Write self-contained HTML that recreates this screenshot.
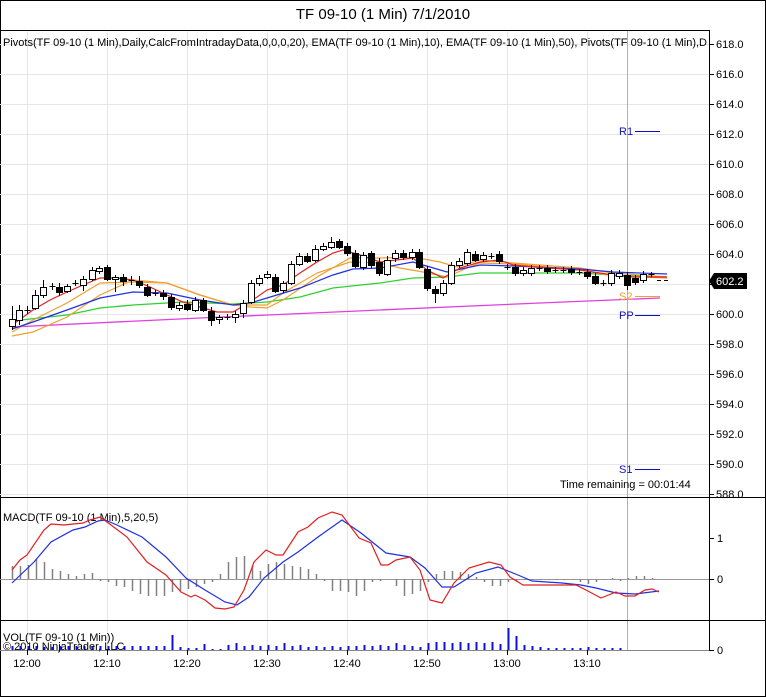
<!DOCTYPE html>
<html><head><meta charset="utf-8"><style>
html,body{margin:0;padding:0;background:#fff;}
svg{display:block;font-family:"Liberation Sans",sans-serif;}
</style></head><body>
<svg id="s" width="766" height="697" viewBox="0 0 766 697" xmlns="http://www.w3.org/2000/svg">
<rect x="0.5" y="0.5" width="765" height="696" fill="#fff" stroke="#000"/>
<text x="383" y="19" font-size="15" text-anchor="middle">TF 09-10 (1 Min)  7/1/2010</text>
<g id="grid" stroke="#e6e6e6" stroke-width="1"></g>
<line x1="627.5" y1="30" x2="627.5" y2="650" stroke="#b0b0b0"/>
<!-- panels -->
<line x1="0" y1="30.5" x2="709" y2="30.5" stroke="#000"/>
<line x1="0" y1="497.5" x2="766" y2="497.5" stroke="#000"/>
<line x1="0" y1="620.5" x2="766" y2="620.5" stroke="#000"/>
<line x1="0" y1="650.5" x2="709" y2="650.5" stroke="#888"/>
<line x1="709.5" y1="30" x2="709.5" y2="650" stroke="#000"/>
<text x="3" y="46" font-size="11">Pivots(TF 09-10 (1 Min),Daily,CalcFromIntradayData,0,0,0,20), EMA(TF 09-10 (1 Min),10), EMA(TF 09-10 (1 Min),50), Pivots(TF 09-10 (1 Min),D</text>
<g id="axis" font-size="11"></g>
<!-- MAs -->
<polyline fill="none" stroke="#e040e0" stroke-width="1.3" points="12,327 200,318 380,310 540,303 660,298"/>
<polyline fill="none" stroke="#30d030" stroke-width="1.3" points="12,321 67,315 100,308 133,305 183,302 233,304 267,302 300,297 333,288 380,283 413,278 447,277 480,273 580,273 613,275 667,277"/>
<polyline fill="none" stroke="#f0a030" stroke-width="1.2" points="12,336 33,332 67,317 100,295 133,280 167,283 200,295 233,305 250,305 267,305 283,293 317,273 350,262 380,263 400,268 423,272 447,277 467,268 480,263 513,264 580,270 613,276 667,278"/>
<polyline fill="none" stroke="#f0a030" stroke-width="1.2" points="12,332 33,320 67,303 100,283 133,282 167,283 200,295 233,305 250,307 267,308 283,300 317,277 350,258 380,258 413,257 440,262 457,267 480,260 513,263 580,268 613,273 667,277"/>
<polyline fill="none" stroke="#2030e0" stroke-width="1.2" points="12,329 33,322 67,310 100,298 133,292 167,293 200,300 233,305 250,303 267,298 300,288 333,275 353,269 380,268 413,262 430,267 447,272 480,265 513,266 580,269 613,272 667,274"/>
<polyline fill="none" stroke="#e02020" stroke-width="1.2" points="12,325 33,310 50,300 67,292 83,285 100,278 117,278 133,280 150,287 167,295 183,302 200,307 217,312 233,312 250,302 267,290 283,285 300,273 317,262 333,253 343,250 360,255 380,262 413,258 427,270 443,278 460,268 480,262 500,260 513,265 547,268 580,270 613,275 633,277 667,277"/>
<g id="candles"></g>
<!-- pivots -->
<line x1="635" y1="131.5" x2="660" y2="131.5" stroke="#1010c0"/>
<text x="619" y="135" font-size="11" fill="#1010c0">R1</text>
<line x1="635" y1="296.5" x2="660" y2="296.5" stroke="#f0a030"/>
<text x="619" y="300" font-size="11" fill="#f0a030">S2</text>
<line x1="635" y1="315.5" x2="660" y2="315.5" stroke="#1010c0"/>
<text x="619" y="319" font-size="11" fill="#1010c0">PP</text>
<line x1="635" y1="469.5" x2="660" y2="469.5" stroke="#1010c0"/>
<text x="619" y="473" font-size="11" fill="#1010c0">S1</text>
<line x1="657" y1="280.5" x2="670" y2="280.5" stroke="#000" stroke-dasharray="4,3"/>
<text x="560" y="488" font-size="11">Time remaining = 00:01:44</text>
<polygon points="709,281 714,273 747,273 747,289 714,289" fill="#000"/>
<text x="716" y="285" font-size="11" fill="#fff">602.2</text>
<!-- MACD -->
<line x1="0" y1="579.5" x2="709" y2="579.5" stroke="#999"/>
<g id="hist" stroke="#808080" stroke-width="1.5"></g>
<text x="3" y="521" font-size="11">MACD(TF 09-10 (1 Min),5,20,5)</text>
<polyline fill="none" stroke="#2030e0" stroke-width="1.2" points="12,583 34,562 51,542 73,530 85,527 98,521 105,520 117,525 142,537 166,557 186,578 205,590 225,602 237,605 249,597 264,578 283,562 298,552 318,537 342,520 361,533 386,553 410,557 425,568 442,587 454,587 476,573 498,567 518,575 532,581 562,583 581,585 596,588 616,593 635,594 659,591"/>
<polyline fill="none" stroke="#e02020" stroke-width="1.2" points="12,570 20,560 27,555 44,530 51,524 64,525 83,523 90,520 100,517 107,522 127,537 147,562 166,575 181,592 191,597 195,595 205,600 215,608 225,609 234,607 244,590 254,562 266,550 276,555 283,555 298,532 308,527 318,518 332,512 342,515 359,538 371,543 381,565 388,565 396,560 410,557 420,570 430,600 442,603 454,583 469,568 489,562 501,565 510,577 523,585 576,585 586,590 601,598 616,592 625,596 635,596 645,590 652,589 659,592"/>
<line x1="709" y1="538.5" x2="714" y2="538.5" stroke="#000"/><text x="717" y="542" font-size="11">1</text>
<line x1="709" y1="579.5" x2="714" y2="579.5" stroke="#000"/><text x="717" y="583" font-size="11">0</text>
<!-- VOL -->
<g id="vol" stroke="#1010e0" stroke-width="2"></g>
<text x="3" y="641" font-size="11">VOL(TF 09-10 (1 Min))</text>
<text x="3" y="650" font-size="11">© 2010 NinjaTrader, LLC</text>
<line x1="709" y1="650.5" x2="714" y2="650.5" stroke="#000"/><text x="717" y="654" font-size="11">0</text>
<g id="times" font-size="11" text-anchor="middle"></g>
</svg>
<script>
var NS="http://www.w3.org/2000/svg";
function el(p,t,a,txt){var e=document.createElementNS(NS,t);for(var k in a)e.setAttribute(k,a[k]);if(txt!==undefined)e.textContent=txt;document.getElementById(p).appendChild(e);return e;}
// grid + axis
for(var p=588;p<=618;p+=2){var y=314-(p-600)*15;
 el("grid","line",{x1:0,y1:y+.5,x2:709,y2:y+.5});
 el("axis","line",{x1:709,y1:y+.5,x2:714,y2:y+.5,stroke:"#000"});
 el("axis","text",{x:716,y:y+4},p.toFixed(1));}
var tl=["12:00","12:10","12:20","12:30","12:40","12:50","13:00","13:10"];
for(var i=0;i<8;i++){var x=27+i*80;
 el("grid","line",{x1:x+.5,y1:30,x2:x+.5,y2:650});
 el("times","text",{x:x,y:667},tl[i]);
 el("times","line",{x1:x+.5,y1:650,x2:x+.5,y2:655,stroke:"#000"});}
// candles: x, top, bottom, type(w/b/d), wickTop, wickBot
var C=[[12,319,326,'w',306,330],[19,310,320,'w',305,325],[27,310,310,'d',306,314],[35,295,308,'w',290,310],[43,287,295,'w',280,298],[52,286,286,'d',283,290],[59,287,292,'b',283,296],[67,286,291,'w',284,293],[75,283,283,'d',280,286],[83,279,285,'w',276,291],[92,270,279,'w',267,281],[99,268,271,'w',266,274],[107,267,279,'b',265,281],[115,277,279,'w',275,292],[123,277,281,'b',274,286],[131,280,280,'d',276,285],[139,281,285,'b',276,288],[147,287,295,'b',284,297],[155,293,293,'d',290,296],[163,293,296,'b',290,300],[171,297,307,'b',294,310],[179,305,308,'w',302,311],[187,304,309,'b',300,311],[195,300,310,'w',297,312],[203,300,310,'b',298,312],[211,311,320,'b',307,326],[219,317,319,'w',315,324],[227,317,317,'d',314,320],[235,314,317,'w',311,323],[243,303,313,'w',300,318],[251,283,302,'w',280,304],[259,278,283,'w',275,286],[267,274,277,'w',271,279],[275,277,291,'b',274,293],[283,283,290,'w',281,293],[291,264,283,'w',261,285],[299,256,264,'w',253,266],[307,256,261,'b',253,263],[315,249,260,'w',245,262],[323,246,249,'w',243,251],[331,242,247,'w',237,249],[339,241,247,'b',239,249],[347,246,253,'b',243,256],[355,253,266,'b',250,268],[363,255,267,'w',252,270],[371,253,265,'b',251,268],[379,262,273,'b',258,276],[387,260,274,'w',256,276],[395,253,258,'w',250,262],[403,253,257,'b',250,260],[412,252,257,'w',249,260],[419,252,267,'b',249,269],[427,269,288,'b',266,291],[435,289,293,'b',286,303],[443,283,293,'w',280,296],[451,265,283,'w',262,285],[459,261,265,'w',258,268],[467,252,263,'w',249,266],[475,254,260,'b',251,262],[483,255,259,'w',252,262],[491,256,256,'d',253,259],[499,254,261,'b',251,264],[507,267,267,'d',264,270],[515,267,273,'b',264,276],[523,270,273,'w',267,276],[531,268,273,'w',265,276],[539,268,268,'d',265,271],[547,268,271,'b',265,274],[555,270,270,'d',267,273],[563,270,270,'d',267,273],[571,269,272,'b',266,275],[579,272,272,'d',269,275],[587,272,276,'b',269,279],[595,276,283,'b',273,285],[603,283,283,'d',280,286],[611,273,283,'w',270,286],[619,273,276,'w',270,279],[627,275,285,'b',272,290],[635,278,282,'b',275,285],[643,274,280,'w',271,283],[651,274,274,'d',272,277]];
C.forEach(function(c){var x=c[0];
 el("candles","line",{x1:x+.5,y1:c[4],x2:x+.5,y2:c[5],stroke:"#000"});
 if(c[3]=='d')el("candles","line",{x1:x-2.5,y1:c[1]+.5,x2:x+3.5,y2:c[1]+.5,stroke:"#000"});
 else el("candles","rect",{x:x-2.5,y:c[1]+.5,width:6,height:Math.max(1,c[2]-c[1]),fill:c[3]=='w'?"#fff":"#000",stroke:"#000"});});
// histogram (value in px, + up)
var H=[13,13,14,20,17,10,8,5,3,5,6,-2,-3,-7,-8,-12,-15,-17,-17,-17,-13,-12,-10,-8,-5,-3,5,17,22,23,13,8,15,17,15,13,12,10,5,-2,-12,-12,-13,-17,-12,-3,-2,0,-7,-17,-15,-12,-3,5,8,8,7,5,2,-3,-7,-7,-3,-2,-1,-1,-1,-1,-1,-1,-1,-3,-5,-3,-1,1,-2,1,3,3,1];
H.forEach(function(v,i){var x=12+i*8+.5;el("hist","line",{x1:x,y1:579,x2:x,y2:579-v});});
// volume
var V=[4,4,4,4,3,3,4,4,4,4,4,4,4,4,4,4,4,4,4,4,15,3,2,2,6,1,1,5,7,4,5,4,5,4,7,4,5,3,4,3,4,3,4,4,5,4,5,4,7,5,4,3,7,8,8,7,8,7,8,7,8,6,22,14,5,4,3,2,2,2,2,2,3,2,2,2,2,4];
V.forEach(function(v,i){var x=12+i*8+.5;if(x>628)return;el("vol","line",{x1:x,y1:650,x2:x,y2:650-v});});
</script>
</body></html>
